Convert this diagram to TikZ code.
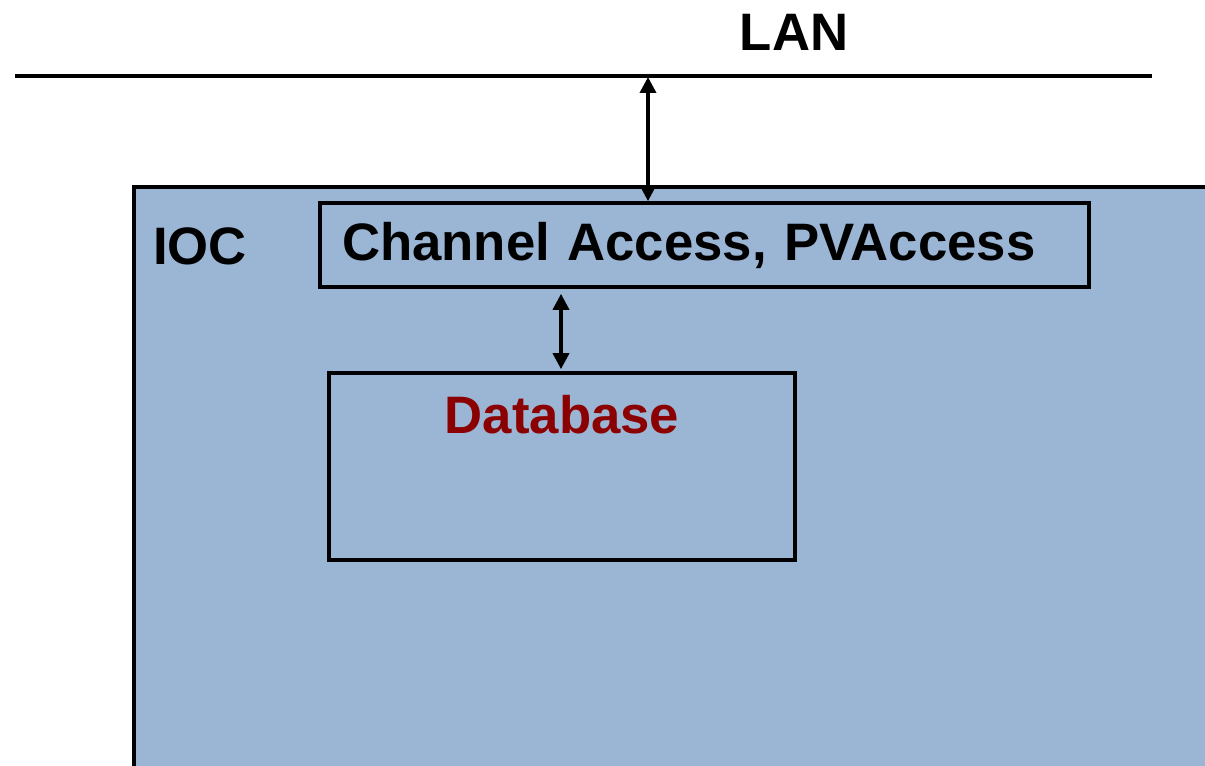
\documentclass[tikz,border=0pt]{standalone}
\usepackage{fontspec}
\setmainfont{Liberation Sans}
\usepackage{tikz}
\usetikzlibrary{positioning, arrows.meta, calc}

\definecolor{iocblue}{HTML}{9BB5D4}
\definecolor{dbred}{HTML}{8B0000}

\tikzset{
    bigtext/.style={font=\fontsize{30}{36}\selectfont\bfseries, inner sep=0pt},
    boxline/.style={draw=black, line width=2.1pt},
    dblarrow/.style={line width=2pt, {Triangle[length=0.32cm, width=0.32cm]}-{Triangle[length=0.32cm, width=0.32cm]}}
}

\begin{document}
\begin{tikzpicture}[x=0.02cm, y=-0.02cm]
            \useasboundingbox (0,0) rectangle (1205,766);

            % LAN line and label
            \node[bigtext] (lan) at (794,32) {LAN};
            \coordinate (lanleft) at (15,76);
            \coordinate (lanright) at (1152,76);
            \draw[line width=2.1pt] (lanleft) -- (lanright);
            \coordinate (tap) at (648,77);

            % IOC area, runs off the page
            \fill[iocblue] (134,187) rectangle (1230,800);
            \draw[boxline] (1230,187) -- (134,187) -- (134,800);
            \node[bigtext] (ioc) at (200,246) {IOC};

            % Channel Access box
            \node[boxline, inner sep=0pt, minimum width=15.38cm, minimum height=1.68cm,
                  text width=14.5cm, align=left, inner xsep=0.44cm,
                  font=\fontsize{30}{36}\selectfont\bfseries] (ca) at (704.5,245) {\raisebox{-3pt}{Channel Access, PVAccess}};

            % Database box
            \node[boxline, minimum width=9.32cm, minimum height=3.74cm] (db) at (562,466.5) {};
            \node[bigtext, text=dbred] (dbname) at (562,415) {Database};

            % arrows
            \coordinate (dbtap) at (561,0);
            \draw[dblarrow] (tap) -- (tap |- ca.north);
            \draw[dblarrow] ($(ca.south -| dbtap)+(0,5)$) -- ($(db.north -| dbtap)+(0,-2)$);
\end{tikzpicture}
\end{document}
